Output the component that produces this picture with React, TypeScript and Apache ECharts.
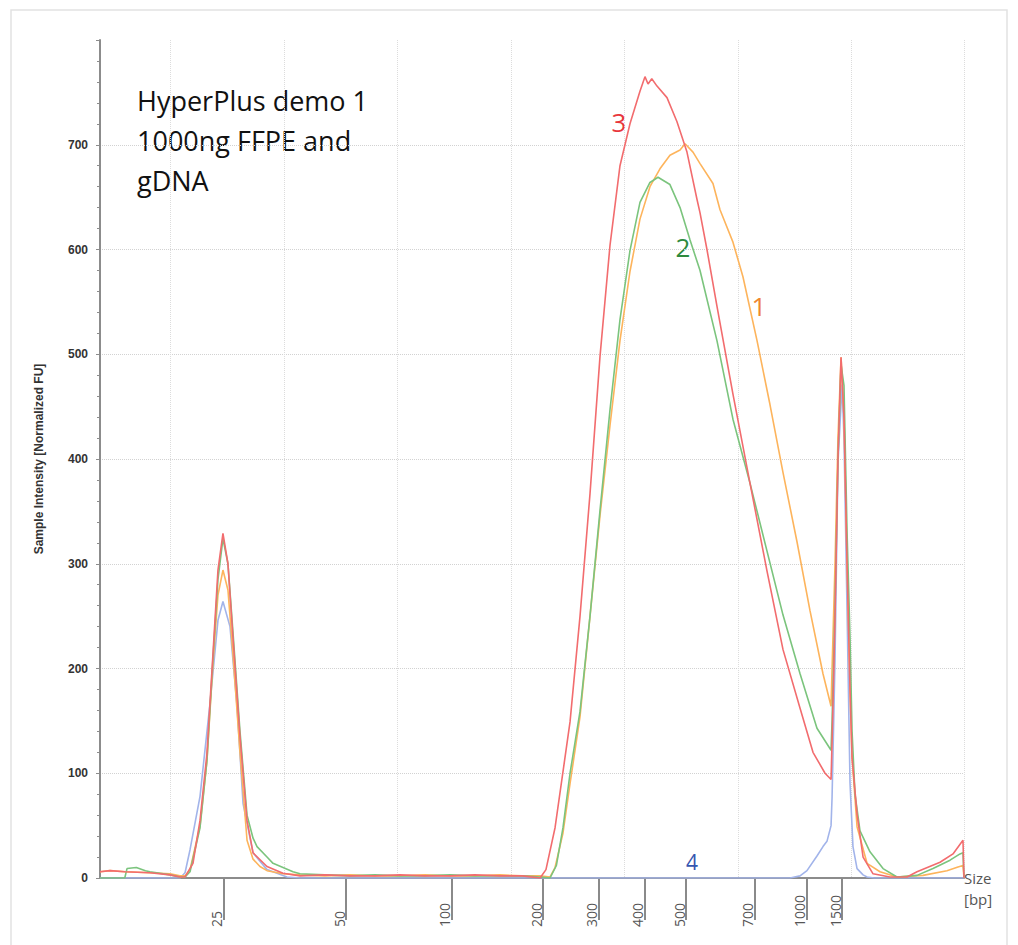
import React, { useEffect, useRef } from "react";
import * as echarts from "echarts";

// Ladder (size marker) positions on the migration axis
const ladderSizes = [25, 50, 100, 200, 300, 400, 500, 700, 1000, 1500];
const ladderTimes = [24.72, 35.47, 44.8, 52.82, 57.75, 61.8, 65.42, 71.49, 76.07, 79.16];

const axisMin = 13.8;
const axisMax = 89.9;

const seriesNames = ["1", "2", "3", "4"];
const seriesColors = ["#fdb45c", "#7bc47d", "#f26c6e", "#a2b4ea"];

// [migration position, intensity FU]
const sample1: number[][] = [
  [13.8, 6], [14.68, 7], [16.0, 6], [18.2, 5], [19.97, 4], [20.85, 2], [21.29, 2], [21.73, 8], [22.61, 50],
  [23.22, 112], [23.75, 205], [24.19, 270], [24.63, 294], [25.07, 275], [25.51, 214], [26.13, 120], [26.75, 36],
  [27.28, 18], [27.89, 11], [28.51, 7], [29.92, 4], [31.42, 3], [33.6, 2], [35.82, 3], [38.0, 2], [40.22, 2],
  [42.4, 3], [44.63, 2], [46.8, 2], [49.03, 3], [51.0, 2], [52.56, 2], [53.44, 1], [53.88, 10], [54.58, 43],
  [55.2, 90], [56.08, 154], [56.96, 250], [57.84, 346], [58.72, 432], [59.6, 513], [60.48, 579], [61.36, 629],
  [62.24, 660], [63.12, 677], [64.0, 690], [64.89, 695], [65.33, 701], [66.03, 693], [66.65, 682], [67.79, 663],
  [68.41, 638], [69.55, 607], [70.43, 574], [71.67, 513], [72.81, 452], [73.96, 387], [75.19, 321], [76.34, 255],
  [77.48, 195], [78.19, 164], [78.28, 200], [78.54, 300], [78.8, 420], [79.07, 497], [79.33, 440], [79.6, 300],
  [79.86, 180], [80.04, 115], [80.48, 49], [81.36, 14], [82.5, 6], [84.0, 1], [86.29, 2.5], [88.4, 7],
  [89.37, 10.5], [89.81, 12], [89.9, 0],
];

const sample2: number[][] = [
  [13.8, 0], [15.98, 0], [16.18, 9], [17.0, 10], [17.8, 7], [18.2, 6], [19.97, 3], [20.85, 1], [21.29, 1],
  [21.73, 6], [22.61, 48], [23.22, 112], [23.75, 210], [24.19, 285], [24.63, 324], [25.07, 300], [25.51, 235],
  [26.13, 140], [26.75, 60], [27.28, 38], [27.63, 30], [28.51, 20], [29.04, 14], [30.8, 6], [31.42, 4],
  [33.6, 3], [35.82, 2], [38.0, 3], [40.22, 2], [42.4, 2], [44.63, 3], [46.8, 2], [49.03, 2], [51.0, 2],
  [52.56, 1], [53.44, 0], [54.0, 12], [54.58, 48], [55.2, 100], [56.08, 159], [56.96, 250], [57.84, 351],
  [58.72, 447], [59.6, 533], [60.48, 599], [61.36, 645], [62.24, 664], [62.95, 669], [64.0, 662], [64.89, 640],
  [65.77, 609], [66.65, 580], [68.14, 513], [69.55, 438], [71.05, 377], [72.55, 312], [73.96, 251],
  [75.46, 195], [76.95, 143], [78.19, 122], [78.28, 150], [78.54, 260], [78.8, 400], [79.07, 490],
  [79.33, 470], [79.6, 330], [79.86, 230], [80.04, 140], [80.3, 80], [80.74, 45], [81.62, 25], [82.77, 9],
  [84.0, 1], [85.76, 2.5], [87.17, 9], [88.67, 17], [89.55, 23], [89.81, 24], [89.9, 0],
];

const sample3: number[][] = [
  [13.8, 6], [14.68, 7], [16.0, 6], [18.2, 5], [19.97, 3], [20.85, 1], [21.29, 1], [21.99, 14], [22.61, 55],
  [23.22, 119], [23.75, 214], [24.19, 294], [24.63, 329], [25.07, 300], [25.51, 230], [26.13, 135], [26.75, 55],
  [27.28, 24], [28.51, 11], [29.92, 4.5], [31.42, 2], [33.6, 3], [35.82, 2], [38.0, 2], [40.22, 3], [42.4, 2],
  [44.63, 2], [46.8, 3], [49.03, 2], [51.0, 2], [52.56, 0], [53.08, 8], [53.88, 48], [55.2, 149], [56.08, 250],
  [56.96, 367], [57.84, 498], [58.72, 604], [59.6, 680], [60.48, 720], [61.36, 751], [61.8, 765], [62.07, 758],
  [62.4, 763], [62.86, 756], [63.74, 745], [64.62, 722], [65.5, 693], [66.38, 648], [66.65, 635], [67.26, 600],
  [68.14, 546], [69.55, 462], [71.05, 377], [72.55, 293], [73.96, 218], [75.46, 162], [76.6, 120], [77.66, 100],
  [78.19, 94], [78.28, 130], [78.54, 250], [78.8, 400], [79.07, 497], [79.33, 440], [79.6, 300], [79.86, 180],
  [80.04, 115], [80.48, 61], [81.01, 20], [81.89, 4], [83.38, 1], [84.88, 1], [85.76, 6], [87.79, 15],
  [88.93, 23], [89.81, 36], [89.9, 0],
];

const sample4: number[][] = [
  [13.8, 0], [20.85, 0], [21.29, 5], [21.73, 27], [22.61, 78], [23.49, 167], [24.19, 246], [24.63, 264],
  [25.25, 240], [25.87, 164], [26.4, 71], [27.28, 24], [28.51, 8], [30.27, 1], [31.42, 0], [74.58, 0],
  [75.46, 2], [76.07, 7], [76.95, 21], [77.48, 30], [77.83, 35], [78.19, 50], [78.28, 77], [78.54, 209],
  [78.8, 396], [79.16, 471], [79.33, 420], [79.6, 255], [79.86, 91], [80.12, 30], [80.48, 9], [81.01, 3],
  [81.36, 1], [82.0, 0], [89.9, 0],
];

const samples = [sample1, sample2, sample3, sample4];

const titleLines = ["HyperPlus demo 1", "1000ng FFPE and", "gDNA"];

function sizeLabel(v: number): string {
  let best = 0;
  let bestD = Infinity;
  ladderTimes.forEach((t, i) => {
    const d = Math.abs(t - v);
    if (d < bestD) {
      bestD = d;
      best = i;
    }
  });
  return String(ladderSizes[best]);
}

export default function App() {
  const ref = useRef<HTMLDivElement>(null);

  useEffect(() => {
    if (!ref.current) return;
    const chart = echarts.init(ref.current, undefined, { renderer: "svg" });
    const drawOrder = [3, 0, 1, 2];
    chart.setOption({
      animation: false,
      backgroundColor: "#ffffff",
      grid: { left: 100, right: 54, top: 40, bottom: 67 },
      xAxis: [
        {
          type: "value",
          min: axisMin,
          max: axisMax,
          splitNumber: 8,
          minInterval: 10,
          maxInterval: 10,
          axisLine: { show: true, onZero: false, lineStyle: { color: "#8c8c8c", width: 2 } },
          axisTick: { show: false },
          axisLabel: { show: false },
          splitLine: {
            show: true,
            showMinLine: false,
            lineStyle: { color: "#dcdcdc", type: "dotted", width: 1 },
          },
        },
        {
          type: "value",
          min: axisMin,
          max: axisMax,
          position: "bottom",
          offset: 5,
          axisLine: { show: false },
          splitLine: { show: false },
          axisTick: {
            show: true,
            customValues: ladderTimes,
            length: 42,
            inside: false,
            lineStyle: { color: "#8a8a8a", width: 2 },
          },
          axisLabel: {
            show: true,
            customValues: ladderTimes,
            rotate: 90,
            align: "left",
            verticalAlign: "bottom",
            margin: 44,
            fontSize: 14,
            color: "#555555",
            fontFamily: "Open Sans",
            formatter: (v: number) => sizeLabel(v),
          },
        },
      ],
      yAxis: {
        type: "value",
        min: 0,
        max: 800,
        interval: 100,
        name: "Sample Intensity [Normalized FU]",
        nameLocation: "middle",
        nameGap: 55,
        nameTextStyle: {
          fontSize: 12,
          fontWeight: "bold",
          color: "#333333",
          fontFamily: "Liberation Sans",
        },
        axisLine: { show: true, lineStyle: { color: "#8c8c8c", width: 2 } },
        axisTick: { show: true, length: 4, lineStyle: { color: "#8c8c8c" } },
        minorTick: { show: true, splitNumber: 5, length: 3, lineStyle: { color: "#8c8c8c" } },
        axisLabel: {
          margin: 12,
          fontSize: 12,
          fontWeight: "bold",
          color: "#333333",
          fontFamily: "Liberation Sans",
          showMaxLabel: false,
        },
        splitLine: {
          show: true,
          showMinLine: false,
          showMaxLine: false,
          lineStyle: { color: "#d2d2d2", type: "dotted", width: 1 },
        },
      },
      series: drawOrder.map((i) => ({
        type: "line",
        name: seriesNames[i],
        xAxisIndex: 0,
        data: samples[i],
        showSymbol: false,
        symbol: "none",
        lineStyle: { color: seriesColors[i], width: 1.6 },
        itemStyle: { color: seriesColors[i] },
        z: 3,
      })),
      graphic: [
        {
          type: "rect",
          silent: true,
          z: -10,
          shape: { x: 11, y: 10, width: 996, height: 950 },
          style: { fill: "none", stroke: "#e2e2e2", lineWidth: 1.5 },
        },
        {
          type: "text",
          x: 137,
          y: 80,
          style: {
            text: titleLines.join("\n"),
            fontSize: 27,
            fontFamily: "Open Sans",
            lineHeight: 40,
            fill: "#111111",
          },
        },
        {
          type: "text",
          x: 619,
          y: 122,
          style: { text: "3", fontSize: 26, fontFamily: "Open Sans", fill: "#e8363c", align: "center", verticalAlign: "middle" },
        },
        {
          type: "text",
          x: 683,
          y: 247,
          style: { text: "2", fontSize: 26, fontFamily: "Open Sans", fill: "#2e8a3e", align: "center", verticalAlign: "middle" },
        },
        {
          type: "text",
          x: 759,
          y: 306,
          style: { text: "1", fontSize: 26, fontFamily: "Open Sans", fill: "#f0862e", align: "center", verticalAlign: "middle" },
        },
        {
          type: "text",
          x: 692,
          y: 862,
          style: { text: "4", fontSize: 21, fontFamily: "Open Sans", fill: "#3556b0", align: "center", verticalAlign: "middle" },
        },
        {
          type: "text",
          x: 964,
          y: 867,
          style: { text: "Size\n[bp]", fontSize: 15, fontFamily: "Open Sans", lineHeight: 21, fill: "#555555" },
        },
      ],
    });
    return () => chart.dispose();
  }, []);

  return (
    <div
      ref={ref}
      style={{ position: "absolute", left: 0, top: 0, width: 1018, height: 945 }}
    />
  );
}
